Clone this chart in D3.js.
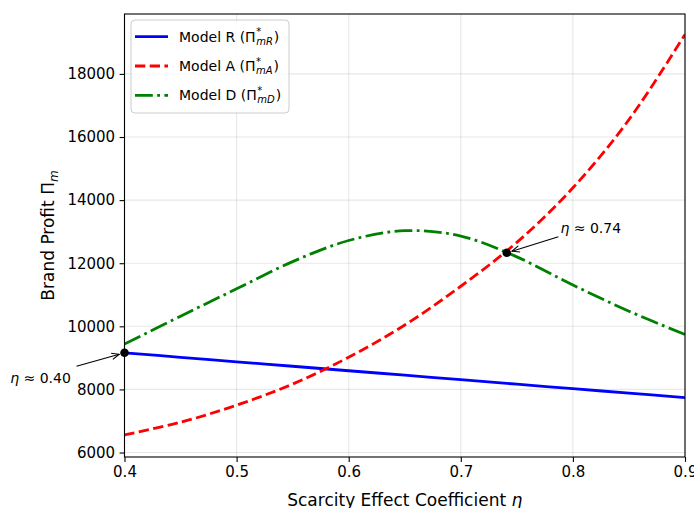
<!DOCTYPE html>
<html>
<head>
<meta charset="utf-8">
<script src="https://cdn.jsdelivr.net/npm/d3@7/dist/d3.min.js"></script>
<style>
  html, body { margin: 0; padding: 0; background: #fff; }
  svg { display: block; font-family: "DejaVu Sans", sans-serif; }
</style>
</head>
<body>
<svg id="chart" width="694" height="508"></svg>
<script>
// ---- data ----
const etas = [0.40, 0.45, 0.50, 0.55, 0.60, 0.65, 0.70, 0.75, 0.80, 0.85, 0.90];
const profitR = [9160, 9018, 8876, 8734, 8592, 8450, 8308, 8166, 8024, 7882, 7740];
const profitA = [6560, 6960, 7500, 8170, 9020, 10040, 11270, 12660, 14390, 16550, 19250];
const profitD = [9440, 10320, 11190, 12050, 12720, 13030, 12860, 12200, 11310, 10480, 9740];
const xTicks = [0.4, 0.5, 0.6, 0.7, 0.8, 0.9];
const yTicks = [6000, 8000, 10000, 12000, 14000, 16000, 18000];
const seriesNames = ["Model R", "Model A", "Model D"];
const seriesSubs = ["mR", "mA", "mD"];
const markEtas = [0.40, 0.741];
const markValues = [9160, 12330];
const markLabels = ["0.40", "0.74"];

// ---- layout ----
const svg = d3.select("#chart");
const L = 124.5, R = 685, T = 14, B = 457;
const x = d3.scaleLinear().domain([0.4, 0.9]).range([L, R]);
const y = d3.scaleLinear().domain([5858, 19899]).range([B, T]);

// grid
const grid = svg.append("g");
grid.selectAll("line.gx").data(xTicks).join("line")
  .attr("x1", d => x(d)).attr("x2", d => x(d)).attr("y1", T).attr("y2", B)
  .attr("stroke", "#b0b0b0").attr("stroke-opacity", 0.3).attr("stroke-width", 1.1);
grid.selectAll("line.gy").data(yTicks).join("line")
  .attr("y1", d => y(d)).attr("y2", d => y(d)).attr("x1", L).attr("x2", R)
  .attr("stroke", "#b0b0b0").attr("stroke-opacity", 0.3).attr("stroke-width", 1.1);

// clip
svg.append("defs").append("clipPath").attr("id", "clip")
  .append("rect").attr("x", L).attr("y", T).attr("width", R - L).attr("height", B - T);

const styles = [
  { color: "#0000ff", dash: null },
  { color: "#ff0000", dash: "10.3,4.4" },
  { color: "#008000", dash: "17.8,4.4,2.8,4.4" }
];
const allSeries = [profitR, profitA, profitD];
const line = d3.line().x(d => x(d[0])).y(d => y(d[1])).curve(d3.curveCatmullRom.alpha(0.5));

const plot = svg.append("g").attr("clip-path", "url(#clip)");
allSeries.forEach((vals, i) => {
  plot.append("path")
    .datum(etas.map((e, j) => [e, vals[j]]))
    .attr("d", line)
    .attr("fill", "none")
    .attr("stroke", styles[i].color)
    .attr("stroke-width", 2.8)
    .attr("stroke-dasharray", styles[i].dash);
});

// axes
const xAxis = d3.axisBottom(x).tickValues(xTicks).tickSize(4.9).tickPadding(4.5).tickFormat(d3.format(".1f"));
const yAxis = d3.axisLeft(y).tickValues(yTicks).tickSize(4.9).tickPadding(4.5).tickFormat(d3.format("d"));
const gx = svg.append("g").attr("transform", `translate(0,${B})`).call(xAxis);
const gy = svg.append("g").attr("transform", `translate(${L},0)`).call(yAxis);
[gx, gy].forEach(g => {
  g.select(".domain").remove();
  g.selectAll(".tick line").attr("stroke", "#000").attr("stroke-width", 1.1);
  g.selectAll(".tick text").attr("fill", "#000").style("font-size", "15px").style("font-family", "DejaVu Sans");
});

// frame
svg.append("rect").attr("x", L).attr("y", T).attr("width", R - L).attr("height", B - T)
  .attr("fill", "none").attr("stroke", "#000").attr("stroke-width", 1.1);

// axis labels
const xl = svg.append("text").attr("x", (L + R) / 2).attr("y", 505.5)
  .attr("text-anchor", "middle").style("font-size", "17px");
xl.append("tspan").text("Scarcity Effect Coefficient ");
xl.append("tspan").style("font-style", "italic").text("η");

const yl = svg.append("text").attr("transform", `translate(54,${(T + B) / 2}) rotate(-90)`)
  .attr("text-anchor", "middle").style("font-size", "17px");
yl.append("tspan").text("Brand Profit Π");
yl.append("tspan").attr("dy", "0.3em").style("font-size", "12px").style("font-style", "italic").text("m");

// markers & annotations
const defs = svg.select("defs");
defs.append("marker").attr("id", "arr").attr("markerUnits", "userSpaceOnUse")
  .attr("viewBox", "-9 -5 10 10").attr("refX", 0).attr("refY", 0)
  .attr("markerWidth", 10).attr("markerHeight", 10).attr("orient", "auto")
  .append("path").attr("d", "M-7.5,-3.2 L0,0 L-7.5,3.2")
  .attr("fill", "none").attr("stroke", "#000").attr("stroke-width", 1.1);

const annOffsets = [
  { tx: -84, ty: 25, sx: -48, sy: 13.4 },
  { tx: 84, ty: -24.4, sx: 51.6, sy: -16 }
];
markEtas.forEach((e, i) => {
  const px = x(e), py = y(markValues[i]);
  const o = annOffsets[i];
  const sx = px + o.sx, sy = py + o.sy;
  const dx = px - sx, dy = py - sy, len = Math.hypot(dx, dy);
  const ex = px - dx / len * 5.5, ey = py - dy / len * 5.5;
  svg.append("line").attr("x1", sx).attr("y1", sy).attr("x2", ex).attr("y2", ey)
    .attr("stroke", "#000").attr("stroke-width", 1.1).attr("marker-end", "url(#arr)");
  svg.append("circle").attr("cx", px).attr("cy", py).attr("r", 4.3).attr("fill", "#000");
  const t = svg.append("text").attr("x", px + o.tx).attr("y", py + o.ty).attr("dy", "0.35em")
    .attr("text-anchor", "middle").style("font-size", "14px").attr("fill", "#000");
  t.append("tspan").style("font-style", "italic").text("η");
  t.append("tspan").text(" ≈ " + markLabels[i]);
});

// legend
const lg = svg.append("g");
lg.append("rect").attr("x", 131).attr("y", 20).attr("width", 158).attr("height", 93).attr("rx", 4)
  .attr("fill", "#fff").attr("fill-opacity", 0.8).attr("stroke", "#cccccc").attr("stroke-width", 1);
seriesNames.forEach((name, i) => {
  const cy = 36.7 + i * 29.3;
  lg.append("line").attr("x1", 135).attr("x2", 168).attr("y1", cy).attr("y2", cy)
    .attr("stroke", styles[i].color).attr("stroke-width", 2.8).attr("stroke-dasharray", styles[i].dash);
  const tx = 179, ty = cy + 5;
  const t = lg.append("text").attr("x", tx).attr("y", ty).style("font-size", "14px").text(name + " (Π");
  const w = t.node().getComputedTextLength();
  lg.append("text").attr("x", tx + w + 0.5).attr("y", ty - 6.5).style("font-size", "10px").text("*");
  const sub = lg.append("text").attr("x", tx + w + 0.5).attr("y", ty + 3).style("font-size", "10px")
    .style("font-style", "italic").text(seriesSubs[i]);
  const ws = sub.node().getComputedTextLength();
  lg.append("text").attr("x", tx + w + ws + 1.5).attr("y", ty).style("font-size", "14px").text(")");
});
</script>
</body>
</html>
